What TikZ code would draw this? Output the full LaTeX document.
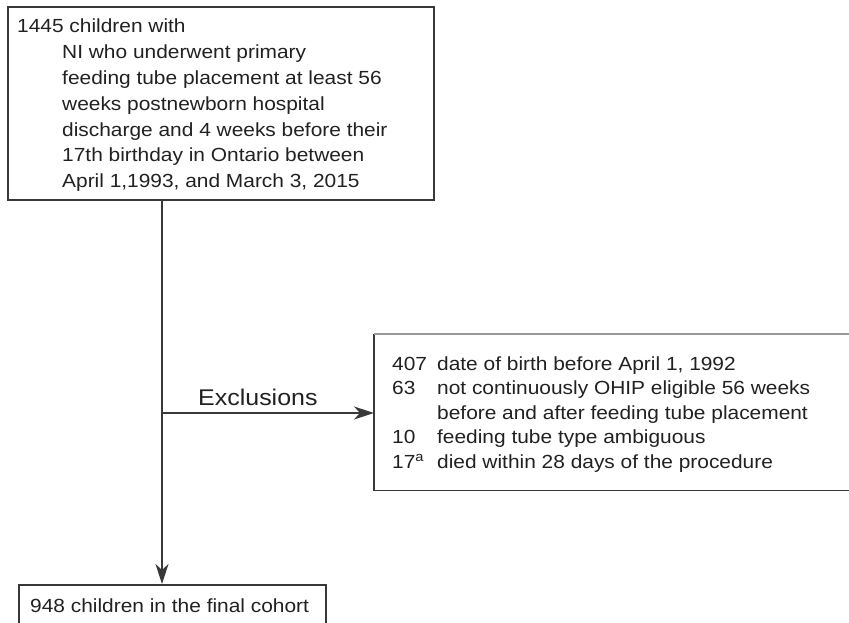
\documentclass[tikz,border=0pt]{standalone}
\usepackage{fontspec}
\setmainfont{Liberation Sans}[FakeStretch=1.1]
\usetikzlibrary{arrows.meta}
\definecolor{ink}{gray}{0.13}
\definecolor{rule}{gray}{0.22}
\definecolor{lightrule}{gray}{0.6}
\begin{document}
\begin{tikzpicture}[x=1pt,y=-1pt,
  box/.style={draw=rule, line width=1.6pt, rectangle, inner sep=0pt, anchor=north west},
  openbox/.style={rectangle, inner sep=0pt, anchor=north west},
  edge/.style={draw=rule, line width=1.6pt},
  faintedge/.style={draw=lightrule, line width=1.1pt},
  txt/.style={inner sep=0pt, anchor=base west, text=ink, font=\fontsize{19pt}{25.8pt}\selectfont},
  arr/.style={draw=rule, line width=1.5pt, -{Stealth[length=20pt,width=13pt,inset=6pt]}}]
\useasboundingbox (0,0) rectangle (849,623);
\clip (0,0) rectangle (849,623);
% boxes
\node[box, minimum width=426pt, minimum height=193pt] (topbox) at (7,6) {};
\node[openbox, minimum width=500pt, minimum height=156pt] (exbox) at (374,334) {};
\draw[edge] (exbox.north west) -- (exbox.south west) -- (exbox.south east);
\draw[faintedge] (exbox.north west) -- (exbox.north east);
\node[box, minimum width=307pt, minimum height=70pt] (botbox) at (18,584) {};
% texts
\node[txt] (toptext) at (17,33) {\vtop{\baselineskip=25.8pt
  \hbox{1445 children with}
  \hbox{\hspace*{45pt}NI who underwent primary}
  \hbox{\hspace*{45pt}feeding tube placement at least 56}
  \hbox{\hspace*{45pt}weeks postnewborn hospital}
  \hbox{\hspace*{45pt}discharge and 4 weeks before their}
  \hbox{\hspace*{45pt}17th birthday in Ontario between}
  \hbox{\hspace*{45pt}April 1,1993, and March 3, 2015}}};
\node[txt] (extext) at (392,370) {\vtop{\baselineskip=24.5pt
  \hbox{\makebox[45pt][l]{407}date of birth before April 1, 1992}
  \hbox{\makebox[45pt][l]{63}not continuously OHIP eligible 56 weeks}
  \hbox{\hspace*{45pt}before and after feeding tube placement}
  \hbox{\makebox[45pt][l]{10}feeding tube type ambiguous}
  \hbox{\makebox[45pt][l]{17\textsuperscript{a}}died within 28 days of the procedure}}};
\node[txt] (bottext) at (30,612) {948 children in the final cohort};
% connectors
\coordinate (j) at (162,413);
\draw[arr] (j |- topbox.south) -- (j |- botbox.north);
\draw[arr] (j) -- (j -| exbox.west);
\node[txt, font=\fontsize{22.7pt}{27pt}\selectfont] (exlabel) at (198,405) {Exclusions};
\end{tikzpicture}
\end{document}
